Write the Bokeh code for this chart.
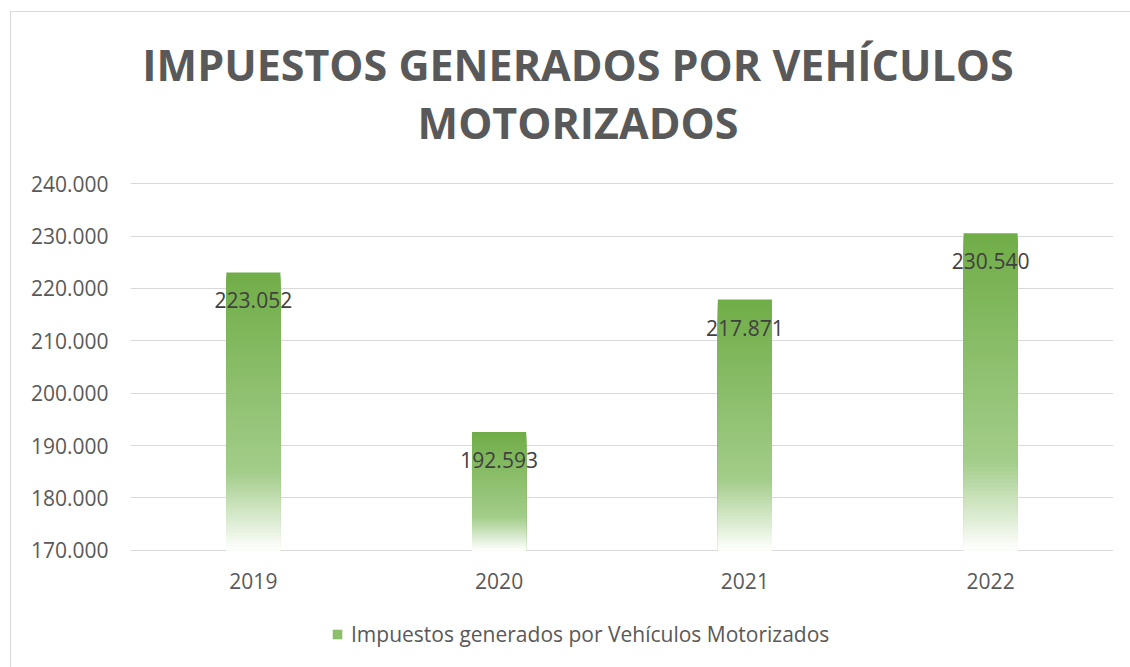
from bokeh.plotting import figure
from bokeh.layouts import column
from bokeh.models import (FactorRange, Range1d, SingleIntervalTicker, CustomJSTickFormatter,
                          Legend, LegendItem, ColumnDataSource)
from bokeh.core.properties import value
from bokeh.embed import file_html
from bokeh.resources import INLINE

# ---- data ----
years = ["2019", "2020", "2021", "2022"]
impuestos = [223052, 192593, 217871, 230540]
y_min = 170000
y_max = 240000
title_lines = ["IMPUESTOS GENERADOS POR VEHÍCULOS", "MOTORIZADOS"]
series_name = "Impuestos generados por Vehículos Motorizados"

FONT = "Open Sans"
W = 1119
H_TITLE, H_MAIN, H_LEG = 150, 450, 55
BL, BR = 119, 17   # left / right borders of the plotting frame

# ---- title strip (frame aligned with the main chart by the column) ----
pt = figure(width=W, height=H_TITLE, x_range=Range1d(BL, W - BR), y_range=Range1d(H_TITLE, 0),
            output_backend="svg", toolbar_location=None,
            min_border=0, min_border_left=BL, min_border_right=BR,
            min_border_top=0, min_border_bottom=0)
pt.axis.visible = False
pt.grid.visible = False
pt.outline_line_color = None
tsrc = ColumnDataSource(dict(x=[566.5, 566.5], y=[52, 110], t=title_lines))
pt.text(x="x", y="y", text="t", source=tsrc, text_align="center", text_baseline="middle",
        text_font=value(FONT), text_font_size="43px", text_font_style="bold",
        text_color="#595959")

# ---- main chart ----
pad = (y_max - y_min) * 0.003
p = figure(x_range=FactorRange(*years), y_range=Range1d(y_min - pad, y_max + pad),
           width=W, height=H_MAIN, output_backend="svg", toolbar_location=None,
           min_border_left=BL, min_border_right=BR, min_border_top=20,
           min_border_bottom=61)
p.outline_line_color = None
p.background_fill_color = "white"
p.border_fill_color = "white"

def lerp(c1, c2, t):
    return tuple(int(round(a + (b - a) * t)) for a, b in zip(c1, c2))

stops = [(0.0, (112, 173, 71)), (0.72, (163, 205, 138)), (1.0, (255, 255, 255))]

def grad_color(f):
    for (f1, c1), (f2, c2) in zip(stops[:-1], stops[1:]):
        if f <= f2:
            return "#%02x%02x%02x" % lerp(c1, c2, (f - f1) / (f2 - f1))
    return "#ffffff"

N = 80
xs, tops, cols = [], [], []
for yr, v in zip(years, impuestos):
    for i in range(N):
        f = i / N
        xs.append(yr)
        tops.append(v - (v - y_min) * f)
        cols.append(grad_color(f + 0.5 / N))
src = ColumnDataSource(dict(x=xs, top=tops, color=cols))
p.vbar(x="x", top="top", bottom=y_min, width=0.22, fill_color="color",
       line_color=None, source=src)

def fmt(v):
    return "{:,}".format(v).replace(",", ".")

lab = ColumnDataSource(dict(x=years, y=impuestos, t=[fmt(v) for v in impuestos]))
p.text(x="x", y="y", text="t", source=lab, text_align="center", text_baseline="middle",
       y_offset=28, text_font=value(FONT), text_font_size="21px", text_color="#404040")

p.yaxis.ticker = SingleIntervalTicker(interval=10000)
p.yaxis.formatter = CustomJSTickFormatter(code="""
return Math.round(tick).toString().replace(/\\B(?=(\\d{3})+(?!\\d))/g, ".");
""")
for ax in (p.xaxis[0], p.yaxis[0]):
    ax.axis_line_color = None
    ax.major_tick_line_color = None
    ax.minor_tick_line_color = None
    ax.major_tick_out = 0
    ax.major_tick_in = 0
    ax.minor_tick_out = 0
    ax.major_label_text_font = FONT
    ax.major_label_text_font_size = "21px"
    ax.major_label_text_color = "#595959"
p.yaxis.major_label_standoff = 22
p.xaxis.major_label_standoff = 21
p.xgrid.grid_line_color = None
p.ygrid.grid_line_color = "#d9d9d9"
p.ygrid.grid_line_width = 1
p.ygrid.level = "underlay"

# ---- legend strip ----
pl = figure(width=W, height=H_LEG, x_range=FactorRange(*years), y_range=Range1d(0, 1),
            output_backend="svg", toolbar_location=None,
            min_border=0, min_border_left=BL, min_border_right=BR,
            min_border_top=0, min_border_bottom=0)
pl.axis.visible = False
pl.grid.visible = False
pl.outline_line_color = None
dummy = pl.vbar(x=[years[0]], top=[0], bottom=0, width=0.01,
                fill_color="#8cbf6c", line_color=None)
legend = Legend(items=[LegendItem(label=series_name, renderers=[dummy])],
                location=(201, 19), orientation="horizontal",
                glyph_width=12, glyph_height=12, label_standoff=8,
                label_text_font=FONT, label_text_font_size="21px",
                label_text_color="#595959", border_line_color=None,
                background_fill_alpha=0, padding=4, margin=0)
pl.add_layout(legend, "center")

layout = column(pt, p, pl, spacing=0)
layout.styles = {"border-left": "1px solid #d9d9d9", "border-top": "1px solid #d9d9d9",
                 "margin-left": "10px", "margin-top": "11px"}

open("out.html", "w").write(file_html(layout, INLINE))
